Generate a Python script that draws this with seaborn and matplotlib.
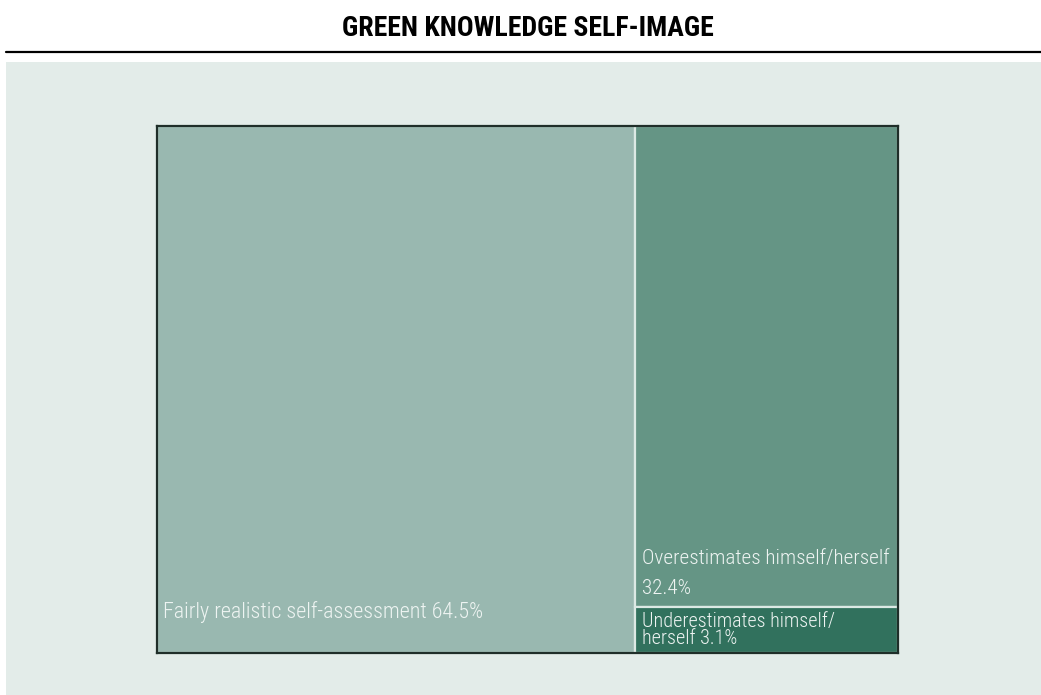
import matplotlib
matplotlib.use("Agg")
import matplotlib.pyplot as plt
from matplotlib.patches import Rectangle
from matplotlib.lines import Line2D
import seaborn as sns

# Survey shares (percent) for each self-image group
categories = ["Fairly realistic self-assessment",
              "Overestimates himself/herself",
              "Underestimates himself/herself"]
shares = [64.5, 32.4, 3.1]
labels = ["Fairly realistic self-assessment 64.5%",
          "Overestimates himself/herself\n32.4%",
          "Underestimates himself/\nherself 3.1%"]
colors = ["#99b8b0", "#659585", "#31715d"]
title = "GREEN KNOWLEDGE SELF-IMAGE"

sns.set_theme(style="white")
plt.rcParams["font.family"] = ["Roboto Condensed", "DejaVu Sans"]

W, H = 1041, 695
fig = plt.figure(figsize=(W / 100, H / 100), dpi=100)
fig.patch.set_facecolor("white")

# light panel behind the chart and rule under the title
fig.add_artist(Rectangle((6 / W, 0), 1 - 6 / W, (H - 62) / H,
                         transform=fig.transFigure, facecolor="#e3ece9",
                         edgecolor="none", zorder=0))
fig.add_artist(Line2D([6 / W, 1], [(H - 52) / H] * 2, transform=fig.transFigure,
                      color="black", lw=1.6, zorder=1))
fig.text(528 / W, (H - 28) / H, title, ha="center", va="center",
         fontsize=20, fontweight="bold", color="black")

ax = fig.add_axes([157 / W, (H - 653) / H, 741 / W, 527 / H])
ax.set_facecolor("none")

# slice-and-dice layout: first group takes a full-height column,
# the remaining groups are stacked in the second column
total = sum(shares)
rest = total - shares[0]
x0 = [0.0, shares[0], shares[0]]
widths = [shares[0], rest, rest]
heights = [1.0, shares[1] / rest, shares[2] / rest]
bottoms = [0.0, shares[2] / rest, 0.0]

ax.bar(x0, heights, width=widths, bottom=bottoms, align="edge",
       color=colors, edgecolor="#dce9e4", linewidth=1.6)
ax.set_xlim(0, total)
ax.set_ylim(0, 1)
ax.set_xticks([])
ax.set_yticks([])
for s in ax.spines.values():
    s.set_visible(True)
    s.set_color("#1f2e29")
    s.set_linewidth(1.6)

txt = dict(color="#eef4f2", textcoords="offset pixels", ha="left",
           fontweight="light")
ax.annotate(labels[0], xy=(x0[0], bottoms[0]), xytext=(6, 35),
            va="baseline", fontsize=15.8, **txt)
ax.annotate(labels[1], xy=(x0[1], bottoms[1]), xytext=(7, 9),
            va="bottom", fontsize=15.2, linespacing=1.75, **txt)
ax.annotate(labels[2], xy=(x0[2], bottoms[2] + heights[2] / 2), xytext=(7, 0),
            va="center", fontsize=14.5, linespacing=0.9, **txt)

fig.savefig("out.png", dpi=100, facecolor="white")
